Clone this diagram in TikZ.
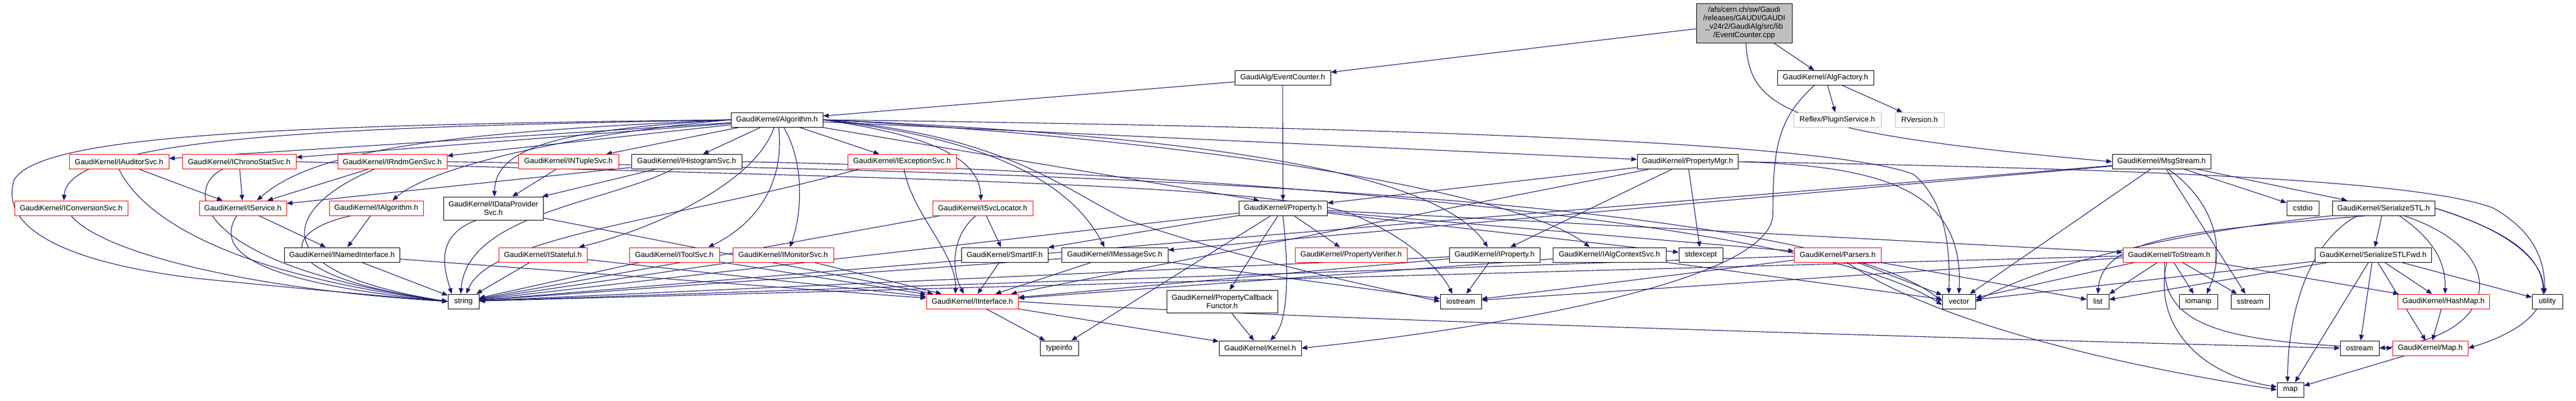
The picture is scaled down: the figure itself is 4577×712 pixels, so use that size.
\documentclass[tikz,border=0pt]{standalone}
\usepackage{fontspec}
\setmainfont{Liberation Sans}
\usetikzlibrary{arrows.meta}
\pgfdeclarelayer{bg}
\pgfsetlayers{bg,main}
\definecolor{edgecol}{HTML}{191970}
\definecolor{redcol}{HTML}{FF0000}
\definecolor{graycol}{HTML}{BFBFBF}
\tikzset{
  box/.style={draw=black, fill=white, line width=1pt, inner sep=0pt, minimum height=26pt,
    font=\fontsize{13.33}{15}\selectfont, align=center},
  rbox/.style={box, draw=redcol},
  gbox/.style={box, draw=graycol},
  conn/.style={edgecol, line width=1.1pt, -{Triangle[length=10pt,width=8pt]}},
}
\begin{document}
\begin{tikzpicture}[x=1pt,y=-1pt]
\useasboundingbox (0,0) rectangle (4577,712);
% ---------- nodes ----------
\node[box, fill=graycol, minimum width=170pt, minimum height=70pt] (top) at (3099,41)
  {/afs/cern.ch/sw/Gaudi\\/releases/GAUDI/GAUDI\\\_v24r2/GaudiAlg/src/lib\\/EventCounter.cpp};
\node[box, minimum width=170pt] (ech) at (2279,138.5) {GaudiAlg/EventCounter.h};
\node[box, minimum width=171pt] (af) at (3243.5,138.5) {GaudiKernel/AlgFactory.h};
\node[box, minimum width=163pt] (alg) at (1380.5,213) {GaudiKernel/Algorithm.h};
\node[gbox, minimum width=155pt] (rpl) at (3264.5,213) {Reflex/PluginService.h};
\node[gbox, minimum width=87pt] (rv) at (3410.5,213) {RVersion.h};
% row 287.5
\node[rbox, minimum width=177pt] (aud) at (211.5,287.5) {GaudiKernel/IAuditorSvc.h};
\node[rbox, minimum width=202pt] (chr) at (425,287.5) {GaudiKernel/IChronoStatSvc.h};
\node[rbox, minimum width=194pt] (rnd) at (697,287.5) {GaudiKernel/IRndmGenSvc.h};
\node[rbox, minimum width=178pt] (ntu) at (1010,287.5) {GaudiKernel/INTupleSvc.h};
\node[box, minimum width=196pt] (his) at (1220,287.5) {GaudiKernel/IHistogramSvc.h};
\node[rbox, minimum width=193pt] (exc) at (1602.5,287.5) {GaudiKernel/IExceptionSvc.h};
\node[box, minimum width=179pt] (pmg) at (2998.5,287.5) {GaudiKernel/PropertyMgr.h};
\node[box, minimum width=175pt] (msg) at (3840.5,287.5) {GaudiKernel/MsgStream.h};
% row 370
\node[rbox, minimum width=201pt] (cnv) at (126.5,370) {GaudiKernel/IConversionSvc.h};
\node[rbox, minimum width=155pt] (svc) at (431.5,370) {GaudiKernel/IService.h};
\node[rbox, minimum width=167pt] (ialg) at (668.5,370) {GaudiKernel/IAlgorithm.h};
\node[box, minimum width=177pt, minimum height=41pt] (dps) at (876.5,370.5) {GaudiKernel/IDataProvider\\Svc.h};
\node[rbox, minimum width=178pt] (loc) at (1746,370) {GaudiKernel/ISvcLocator.h};
\node[box, minimum width=157pt] (prop) at (2279.5,370) {GaudiKernel/Property.h};
\node[box, minimum width=57pt] (cstdio) at (4091.5,370) {cstdio};
\node[box, minimum width=182pt] (ser) at (4235,370) {GaudiKernel/SerializeSTL.h};
% row 453
\node[box, minimum width=205pt] (nam) at (607.5,453) {GaudiKernel/INamedInterface.h};
\node[rbox, minimum width=157pt] (sta) at (964.5,453) {GaudiKernel/IStateful.h};
\node[rbox, minimum width=160pt] (tool) at (1198,453) {GaudiKernel/IToolSvc.h};
\node[rbox, minimum width=179pt] (mon) at (1391.5,453) {GaudiKernel/IMonitorSvc.h};
\node[box, minimum width=154pt] (smart) at (1785,453) {GaudiKernel/SmartIF.h};
\node[box, minimum width=189pt] (imsg) at (1980.5,453) {GaudiKernel/IMessageSvc.h};
\node[rbox, minimum width=199pt] (pver) at (2400.5,453) {GaudiKernel/PropertyVerifier.h};
\node[box, minimum width=161pt] (iprop) at (2655.5,453) {GaudiKernel/IProperty.h};
\node[box, minimum width=201pt] (ctx) at (2859.5,453) {GaudiKernel/IAlgContextSvc.h};
\node[box, minimum width=78pt] (stdexc) at (3022,453) {stdexcept};
\node[rbox, minimum width=154pt] (pars) at (3265,453) {GaudiKernel/Parsers.h};
\node[rbox, minimum width=164pt] (tos) at (3854,453) {GaudiKernel/ToStream.h};
\node[box, minimum width=207pt] (serf) at (4216.5,453) {GaudiKernel/SerializeSTLFwd.h};
% row 536
\node[box, minimum width=55pt] (string) at (823.5,536) {string};
\node[rbox, minimum width=163pt] (iint) at (1727.5,536) {GaudiKernel/IInterface.h};
\node[box, minimum width=197pt, minimum height=40pt] (pcf) at (2171.5,536) {GaudiKernel/PropertyCallback\\Functor.h};
\node[box, minimum width=73pt] (iostream) at (2595.5,536) {iostream};
\node[box, minimum width=59pt] (vector) at (3480.5,536) {vector};
\node[box, minimum width=39pt] (list) at (3727.5,536) {list};
\node[box, minimum width=68pt] (iomanip) at (3906,536) {iomanip};
\node[box, minimum width=68pt] (sstream) at (3998,536) {sstream};
\node[rbox, minimum width=163pt] (hash) at (4341.5,536) {GaudiKernel/HashMap.h};
\node[box, minimum width=54pt] (utility) at (4526,536) {utility};
% row 619
\node[box, minimum width=68pt] (typeinfo) at (1882,619) {typeinfo};
\node[box, minimum width=146pt] (kern) at (2239,619) {GaudiKernel/Kernel.h};
\node[box, minimum width=69pt] (ostream) at (4192.5,619) {ostream};
\node[rbox, minimum width=134pt] (mapH) at (4318,619) {GaudiKernel/Map.h};
% row 693
\node[box, minimum width=47pt] (map) at (4069.5,693) {map};
% ---------- edges ----------
\begin{pgfonlayer}{bg}
\fill[white] (0,0) rectangle (4577,712);
% top file
\draw[conn] (top) -- (ech);
\draw[conn] (top) -- (af);
\draw[conn] ([xshift=3pt]top.south) .. controls (3110,190) and (3160,235) .. (msg.west);
% EventCounter.h
\draw[conn] (ech) -- (alg);
\draw[conn] (ech) -- (prop);
% AlgFactory.h
\draw[conn] (af) -- (rpl);
\draw[conn] (af) -- (rv);
\draw[conn] ([xshift=-20pt]af.south) .. controls (3160,210) and (3150,260) .. (3150,380) .. controls (3150,520) and (2500,600) .. (kern.east);
% Algorithm.h
\draw[conn] (alg.west) .. controls (700,225) and (120,235) .. ([xshift=-13pt]cnv.north);
\draw[conn] (alg.west) .. controls (500,222) and (70,240) .. (25,320) .. controls (0,400) and (100,465) .. (350,495) .. controls (550,515) and (700,528) .. (string.west);
\draw[conn] (alg) -- (aud);
\draw[conn] (alg) -- (chr);
\draw[conn] (alg) -- (rnd);
\draw[conn] (alg) -- (ntu);
\draw[conn] (alg) -- (his);
\draw[conn] (alg) -- (exc);
\draw[conn] (alg.west) .. controls (800,235) and (560,265) .. ([xshift=25pt]svc.north);
\draw[conn] (alg.west) .. controls (1000,240) and (760,300) .. ([xshift=29pt]ialg.north);
\draw[conn] (alg.west) .. controls (1000,230) and (880,260) .. ([xshift=2pt]dps.north);
\draw[conn] ([xshift=-5pt]alg.south) .. controls (1340,330) and (1150,410) .. ([xshift=-15pt]sta.north east);
\draw[conn] ([xshift=3pt]alg.south) .. controls (1395,330) and (1340,400) .. ([xshift=-20pt]tool.north east);
\draw[conn] ([xshift=12pt]alg.south) .. controls (1430,290) and (1425,380) .. ([xshift=12pt]mon.north);
\draw[conn] (alg.east) .. controls (1650,240) and (1740,280) .. ([xshift=-3pt]loc.north);
\draw[conn] (alg.east) .. controls (1750,245) and (1900,320) .. ([xshift=-18pt]imsg.north);
\draw[conn] (alg) -- ([xshift=-42pt]prop.north);
\draw[conn] (alg) -- (pmg);
\draw[conn] (alg.east) .. controls (2100,240) and (2550,300) .. ([xshift=-12pt]iprop.north);
\draw[conn] (alg.east) .. controls (2100,245) and (2700,340) .. ([xshift=-35pt]ctx.north);
\draw[conn] (alg.east) .. controls (2400,225) and (3250,250) .. (3400,310) .. controls (3460,360) and (3465,450) .. ([xshift=-18pt]vector.north);
\draw[conn] (alg.east) .. controls (1780,240) and (1880,330) .. (2000,390) .. controls (2200,460) and (2420,505) .. (iostream.west);
% service interfaces row
\draw[conn] (aud) -- (svc);
\draw[conn] (aud.south) .. controls (240,360) and (350,480) .. (string.west);
\draw[conn] (chr) -- (svc);
\draw[conn] ([xshift=-29pt]chr.south) .. controls (330,330) and (330,470) .. (string.west);
\draw[conn] (chr.east) .. controls (1500,315) and (2250,325) .. (2400,380) .. controls (2500,420) and (2560,480) .. ([xshift=-15pt]iostream.north);
\draw[conn] (rnd) -- (svc);
\draw[conn] ([xshift=-32pt]rnd.south) .. controls (520,360) and (440,480) .. (string.west);
\draw[conn] (rnd.east) .. controls (1600,300) and (3200,330) .. (vector.west);
\draw[conn] (ntu) -- (dps);
\draw[conn] (his) -- (svc);
\draw[conn] (his) -- (dps);
\draw[conn] ([xshift=-25pt]his.south) .. controls (1080,360) and (830,380) .. ([xshift=-5pt]string.north);
\draw[conn] (his.east) .. controls (2000,300) and (3200,380) .. ([yshift=-6pt]vector.west);
\draw[conn] ([xshift=4pt]exc.south) .. controls (1620,380) and (1700,450) .. ([xshift=-30pt]iint.north);
\draw[conn] ([xshift=20pt]exc.south west) .. controls (1200,390) and (870,420) .. ([xshift=5pt]string.north);
% row 370
\draw[conn] (cnv.south) .. controls (180,450) and (450,515) .. (string.west);
\draw[conn] (svc) -- (nam);
\draw[conn] ([xshift=-11pt]svc.south) .. controls (385,440) and (430,500) .. (string.west);
\draw[conn] (ialg) -- (nam);
\draw[conn] ([xshift=-44pt]ialg.south) .. controls (500,410) and (470,490) .. (string.west);
\draw[conn] ([xshift=-30pt]dps.south) .. controls (770,420) and (790,480) .. ([xshift=-21pt]string.north);
\draw[conn] (dps) -- (iint);
\draw[conn] ([xshift=-12pt]loc.south) .. controls (1690,420) and (1690,480) .. ([xshift=-15pt]iint.north);
\draw[conn] (loc) -- (smart);
\draw[conn] (loc) -- (string);
\draw[conn] (prop) -- (smart);
\draw[conn] (prop) -- (typeinfo);
\draw[conn] (prop) -- (pcf);
\draw[conn] (prop.south) .. controls (2290,480) and (2290,570) .. ([xshift=18pt]kern.north);
\draw[conn] (prop) -- (pver);
\draw[conn] (prop) -- (stdexc);
\draw[conn] (prop) -- (pars);
\draw[conn] (prop) -- (tos);
\draw[conn] (prop) -- (string);
% PropertyMgr.h
\draw[conn] (pmg) -- (prop);
\draw[conn] (pmg) -- (iprop);
\draw[conn] (pmg) -- (stdexc);
\draw[conn] (pmg.east) .. controls (3350,295) and (3490,340) .. (vector.north);
\draw[conn] (pmg.east) .. controls (3800,300) and (4300,320) .. (4430,370) .. controls (4500,410) and (4522,460) .. ([xshift=-5pt]utility.north);
\draw[conn] (pmg) -- (iint);
% MsgStream.h
\draw[conn] (msg) -- (imsg);
\draw[conn] (msg) -- (string);
\draw[conn] (msg) -- (cstdio);
\draw[conn] (msg) -- (ser);
\draw[conn] ([xshift=12pt]msg.south) .. controls (3910,340) and (3965,420) .. ([xshift=15pt]iomanip.north);
\draw[conn] (msg) -- (sstream);
\draw[conn] (msg) -- (vector);
% row 453
\draw[conn] (nam) -- (string);
\draw[conn] (nam) -- (iint);
\draw[conn] (sta) -- (string);
\draw[conn] (sta) -- (iint);
\draw[conn] (tool) -- (string);
\draw[conn] (tool) -- (iint);
\draw[conn] (mon) -- (string);
\draw[conn] (mon) -- (iint);
\draw[conn] (smart) -- (iint);
\draw[conn] (imsg) -- (iint);
\draw[conn] (imsg) -- (string);
\draw[conn] (imsg) -- (iostream);
\draw[conn] (iprop) -- (iostream);
\draw[conn] (iprop) -- (iint);
\draw[conn] (iprop) -- (string);
\draw[conn] (ctx) -- (iint);
\draw[conn] (ctx) -- (vector);
\draw[conn] (pars) -- (vector);
\draw[conn] (pars) -- (list);
\draw[conn] (pars) -- (string);
\draw[conn] (pars) -- (iostream);
\draw[conn] ([xshift=16pt]pars.south) .. controls (3420,560) and (3700,640) .. (map.west);
\draw[conn] (tos) -- (iostream);
\draw[conn] (tos) -- (iomanip);
\draw[conn] (tos) -- (sstream);
\draw[conn] (tos) -- (vector);
\draw[conn] (tos) -- (list);
\draw[conn] (tos) -- (hash);
\draw[conn] (tos) -- (string);
\draw[conn] ([xshift=-4pt]tos.south) .. controls (3825,570) and (3900,665) .. ([yshift=5pt]map.west);
\draw[conn] ([xshift=-8pt]tos.south) .. controls (3840,580) and (3950,610) .. (mapH.west);
% SerializeSTL.h
\draw[conn] (ser) -- (serf);
\draw[conn] ([xshift=-46pt]ser.south) .. controls (4100,430) and (4065,560) .. ([xshift=-5pt]map.north);
\draw[conn] ([xshift=28pt]ser.south) .. controls (4330,430) and (4345,470) .. ([xshift=3pt]hash.north);
\draw[conn] ([xshift=36pt]ser.south) .. controls (4470,450) and (4440,600) .. (ostream.east);
\draw[conn] (ser.east) .. controls (4420,400) and (4515,440) .. ([xshift=-7pt]utility.north);
\draw[conn] (ser.east) .. controls (4560,440) and (4580,560) .. (mapH.east);
\draw[conn] (ser.south west) .. controls (3900,410) and (3650,460) .. (vector.east);
\draw[conn] ([xshift=-30pt]ser.south) .. controls (3900,410) and (3735,420) .. (list.north);
% SerializeSTLFwd.h
\draw[conn] (serf) -- (vector);
\draw[conn] (serf) -- (list);
\draw[conn] (serf) -- (map);
\draw[conn] (serf) -- (ostream);
\draw[conn] (serf) -- (mapH);
\draw[conn] (serf) -- (hash);
\draw[conn] (serf) -- (utility);
% lower rows
\draw[conn] (hash) -- (mapH);
\draw[conn] (mapH) -- (map);
\draw[conn] (iint) -- (typeinfo);
\draw[conn] (iint) -- (kern);
\draw[conn] (iint.east) .. controls (2300,570) and (3800,610) .. (ostream.west);
\draw[conn] (pcf) -- (kern);
\end{pgfonlayer}
\end{tikzpicture}
\end{document}
